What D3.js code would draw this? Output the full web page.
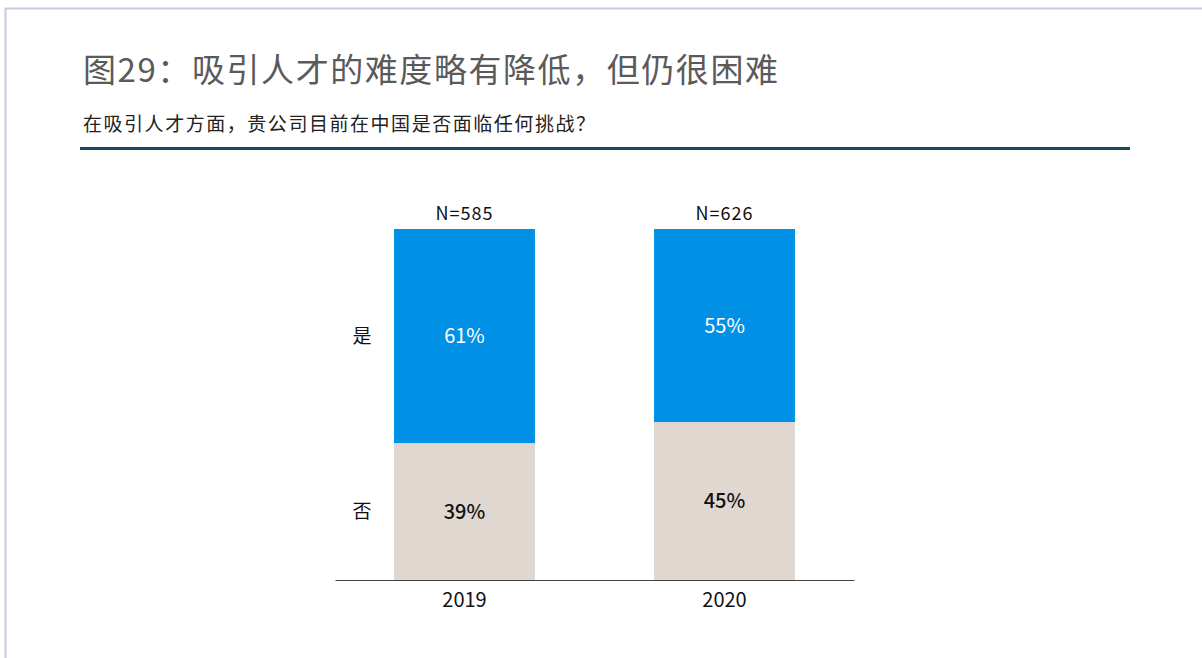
<!DOCTYPE html>
<html>
<head>
<meta charset="utf-8">
<script src="https://cdn.jsdelivr.net/npm/d3@7"></script>
<style>
  html, body { margin: 0; padding: 0; background: #fff; }
  svg { display: block; font-family: "Noto Sans CJK SC", "Noto Sans", sans-serif; }
</style>
</head>
<body>
<div id="chart"></div>
<script>
const title = "图29：吸引人才的难度略有降低，但仍很困难";
const subtitle = "在吸引人才方面，贵公司目前在中国是否面临任何挑战？";
const years = ["2019", "2020"];
const sampleSizes = ["N=585", "N=626"];
const seriesNames = ["否", "是"];
const noValues = [39, 45];
const yesValues = [61, 55];

const W = 1202, H = 658;
const svg = d3.select("#chart").append("svg")
    .attr("width", W)
    .attr("height", H);

// frame (left + top only)
svg.append("path")
    .attr("d", "M5.5,658 V8.5 H1202")
    .attr("fill", "none")
    .attr("stroke", "#c3cbe3")
    .attr("stroke-width", 2);

svg.append("text")
    .attr("x", 83).attr("y", 82)
    .attr("font-size", 33)
    .attr("fill", "#5a5a5a")
    .attr("textLength", 695)
    .attr("lengthAdjust", "spacing")
    .text(title);

svg.append("text")
    .attr("x", 83).attr("y", 131)
    .attr("font-size", 19)
    .attr("fill", "#222")
    .attr("textLength", 512)
    .attr("lengthAdjust", "spacing")
    .text(subtitle);

svg.append("rect")
    .attr("x", 80).attr("y", 147)
    .attr("width", 1050).attr("height", 3)
    .attr("fill", "#184a5a");

// chart
const colors = { "是": "#0091e6", "否": "#e0d7d1" };
const labelColors = { "是": "#fff", "否": "#111" };
const labelWeights = { "是": 400, "否": 500 };

const table = years.map((y, i) => ({ year: y, "否": noValues[i], "是": yesValues[i] }));
const stack = d3.stack().keys(seriesNames)(table);

const x = d3.scaleBand().domain(years).range([335, 854]).paddingInner(0.458).paddingOuter(0.227);
const y = d3.scaleLinear().domain([0, 100]).range([580, 229]);

const g = svg.append("g");

stack.forEach(s => {
    g.selectAll(null)
        .data(s)
        .enter().append("rect")
        .attr("x", d => x(d.data.year))
        .attr("y", d => y(d[1]))
        .attr("width", x.bandwidth())
        .attr("height", d => y(d[0]) - y(d[1]))
        .attr("fill", colors[s.key]);

    g.selectAll(null)
        .data(s)
        .enter().append("text")
        .attr("x", d => x(d.data.year) + x.bandwidth() / 2)
        .attr("y", d => (y(d[0]) + y(d[1])) / 2)
        .attr("dy", "0.35em")
        .attr("text-anchor", "middle")
        .attr("font-size", 20)
        .attr("font-weight", labelWeights[s.key])
        .attr("fill", labelColors[s.key])
        .text(d => (d[1] - d[0]) + "%");

    // series label next to first bar
    const first = s[0];
    g.append("text")
        .attr("x", 362)
        .attr("y", (y(first[0]) + y(first[1])) / 2)
        .attr("dy", "0.35em")
        .attr("text-anchor", "middle")
        .attr("font-size", 19)
        .attr("fill", "#111")
        .text(s.key);
});

// sample sizes
g.selectAll(".n")
    .data(years)
    .enter().append("text")
    .attr("x", d => x(d) + x.bandwidth() / 2)
    .attr("y", y(100) - 15)
    .attr("dy", "0.35em")
    .attr("text-anchor", "middle")
    .attr("font-size", 18)
    .attr("letter-spacing", 1)
    .attr("fill", "#111")
    .text((d, i) => sampleSizes[i]);

// x axis
const xAxis = svg.append("g")
    .attr("transform", "translate(0,580)")
    .call(d3.axisBottom(x).tickSize(0).tickPadding(13));
xAxis.select(".domain").attr("stroke", "#444").attr("stroke-width", 1.2);
xAxis.selectAll("text")
    .attr("font-size", 20)
    .attr("fill", "#111")
    .attr("font-family", "'Noto Sans CJK SC', sans-serif");
</script>
</body>
</html>
